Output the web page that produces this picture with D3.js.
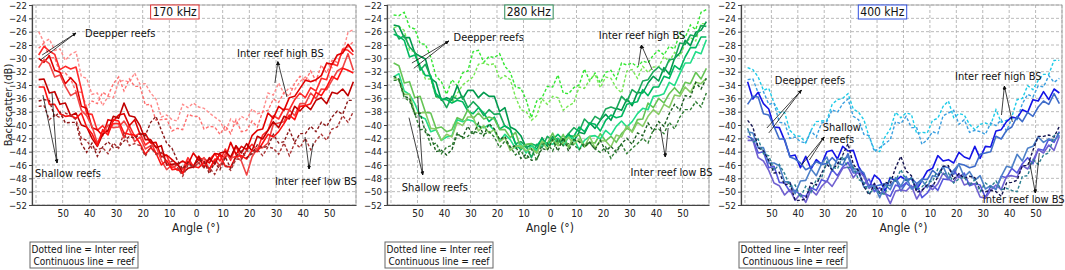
<!DOCTYPE html>
<html>
<head>
<meta charset="utf-8">
<script src="https://cdn.jsdelivr.net/npm/d3@7"></script>
<style>
  body { margin: 0; background: #fff; }
  text { font-family: "DejaVu Sans Condensed", "DejaVu Sans", sans-serif; font-stretch: condensed; }
</style>
</head>
<body>
<script>
// Chart size
const width = 1065;
const height = 270;

// Sampled angles (degrees), shared by all series
const angles = [-59,-57,-55,-53,-51,-49,-47,-45,-43,-41,-39,-37,-35,-33,-31,-29,-27,-25,-23,-21,
  -19,-17,-15,-13,-11,-9,-7,-5,-3,-1,1,3,5,7,9,11,13,15,17,19,
  21,23,25,27,29,31,33,35,37,39,41,43,45,47,49,51,53,55,57,59];

const yTicks = [-22,-24,-26,-28,-30,-32,-34,-36,-38,-40,-42,-44,-46,-48,-50,-52];
const xTicks = [-50,-40,-30,-20,-10,0,10,20,30,40,50];
const xGrid = [-60,-50,-40,-30,-20,-10,0,10,20,30,40,50,60];
const titles = ["170 kHz", "280 kHz", "400 kHz"];

// ---- 170 kHz ----
const reef170 = [
  [-29.5,-28.2,-28.9,-29.4,-31.7,-31.2,-31.6,-31.3,-34.6,-38.3,-38.4,-40.8,-40.1,-41.1,-39.8,-39.8,-41.9,-40.1,-41.7,-41.2,-43,-42.4,-44.3,-44.2,-44.6,-46.4,-46,-46.7,-44.9,-46.2,-44.7,-45.6,-45.2,-44.3,-45.4,-43.6,-45.3,-43.2,-45,-43.8,-42.9,-43.8,-41.5,-40.8,-38.6,-39.1,-37.6,-37.7,-36.2,-35.2,-35.9,-34.4,-34.9,-33,-33.2,-30.8,-31.1,-28.6,-28.8,-29.5],
  [-30,-30.6,-29.6,-31.8,-32.1,-33.8,-32.9,-33.8,-37.2,-37.5,-40.4,-40.7,-41.6,-39.2,-39.4,-38.5,-38.3,-40.1,-39.2,-41.4,-41.3,-42.7,-42.6,-44.8,-44.5,-45.2,-45.9,-45.4,-45.9,-44.2,-45.3,-45,-45.7,-44.3,-44.4,-45,-42.6,-44.4,-43.2,-43.7,-41.6,-40.8,-40.6,-38.2,-39,-37.2,-37.8,-35.9,-35.7,-34.5,-33.3,-33.5,-33.2,-32.6,-30.7,-30.9,-29.5,-29.2,-27.9,-29],
  [-31.4,-30.2,-30.8,-32.8,-32.5,-34.2,-35.6,-35.1,-37.8,-38.6,-40.2,-42.7,-41.3,-40,-40.4,-40.3,-39.4,-40.7,-42.5,-41.8,-43.6,-43.1,-43.2,-45.3,-46.7,-46,-46.8,-46.6,-45.6,-46.4,-45.7,-44.9,-46.8,-45.1,-46.2,-44.3,-45,-44.7,-45.4,-47.5,-44.8,-43.5,-43.4,-42.7,-39.9,-39.7,-39.5,-37.7,-38.6,-36.8,-36.8,-35.2,-36,-34.6,-34.7,-33.3,-31.9,-31.4,-29.3,-31.8],
  [-33.2,-33.1,-35.2,-35,-36.9,-36.7,-38.6,-38.2,-40,-40.3,-42,-43.2,-41.4,-40.8,-38.7,-39,-36.7,-38.6,-38.8,-40.1,-42.2,-42.2,-43.4,-43.1,-46,-45.9,-45.8,-47.2,-46.5,-46.3,-44.7,-46.4,-44.9,-45.9,-44.2,-44,-44.8,-43.1,-44.2,-42.8,-43.9,-41.7,-42.1,-40.8,-39.5,-40.4,-38.7,-39.1,-37.2,-37.9,-37,-37.7,-36.3,-35.9,-36.8,-35.1,-35.3,-34.6,-35.6,-33.5],
  [-34.3,-34.3,-36.9,-36.9,-38.3,-38.7,-38.6,-39,-38.2,-40.3,-41.3,-43.1,-40.7,-41.5,-39.2,-39.4,-41.2,-41.4,-41.5,-42.8,-44.4,-43.4,-44.2,-46,-45.3,-46.7,-46.6,-47.3,-45.4,-46.2,-46.4,-45.6,-46.6,-45.3,-44.5,-46.2,-46.3,-44.7,-44.6,-45.1,-43.8,-44,-42.7,-41.4,-41.8,-41,-39.8,-38.5,-39.2,-37.2,-37.1,-36.8,-35.1,-35.6,-34.3,-32.7,-33.2,-31.5,-31.8,-32.2]
];
const interHigh170 = [
  [-26,-27.6,-27.1,-28.8,-28.6,-30.3,-29.4,-29,-32.7,-33,-35.4,-35.2,-37.1,-35.7,-35.9,-33.5,-33.3,-33.6,-32.2,-33.9,-33.8,-35.2,-36.1,-38.8,-38.5,-39.2,-39.4,-36.9,-37.4,-36.7,-37.3,-37.5,-38.2,-38.8,-39.4,-41,-39.1,-39.9,-38.7,-39.2,-37.6,-38.3,-38.1,-35.2,-35.5,-33.7,-35.3,-34.4,-34.7,-33.5,-32.8,-33.5,-33.2,-32.6,-30.7,-31.4,-29.5,-29.2,-26.1,-25.7],
  [-28.5,-27.7,-29.9,-29.9,-32.2,-32.2,-33.1,-35,-35.1,-37.3,-36.4,-36.8,-35.1,-35.6,-33.8,-32.8,-34.9,-33.1,-34.2,-34.2,-37,-36.9,-39.3,-39.2,-39.1,-40.9,-40.5,-40.7,-38.4,-38.7,-38.7,-40.6,-40.2,-40.3,-41.4,-40.1,-41.3,-39.2,-41,-40.8,-39.4,-40.3,-38,-37.8,-36.1,-36.6,-35.1,-35.7,-33.7,-32.7,-33.4,-31.9,-33.4,-31,-32.2,-30.3,-30.6,-29.1,-28.3,-27.5]
];
const interLow170 = [
  [-36.4,-36.2,-36.3,-38.8,-38,-39.7,-39.6,-39.6,-42.8,-44.1,-42.7,-44.7,-43.3,-42.5,-43.4,-43.3,-42.4,-41.7,-42,-41.3,-41.6,-39.6,-38.7,-40.8,-42.7,-43.5,-45.3,-46.6,-45.6,-46.4,-45.2,-45.4,-47.3,-45.6,-46.7,-44.8,-46.5,-44.7,-43.9,-44.9,-44.3,-43,-43.4,-43.2,-41.4,-42.7,-42.5,-40.7,-42.6,-41.3,-41.3,-40.2,-41,-39.6,-40.2,-38.8,-37.9,-38.4,-36.3,-36.3],
  [-37.2,-37.1,-39.2,-38.5,-38.9,-38.2,-38.6,-39.2,-42,-42.3,-43.5,-43.7,-43.4,-44.3,-42.7,-43.5,-41.2,-43.1,-42.8,-43.1,-44.7,-43.2,-44.4,-44.1,-46,-45.4,-46.3,-47.7,-46,-46.3,-45.7,-46.4,-46.4,-47.4,-45.7,-46,-46.8,-45.1,-45.2,-43.8,-44.4,-43.7,-44.6,-43.3,-43.5,-44.4,-42.7,-44.6,-42.7,-43.4,-42,-43.7,-42.3,-41.4,-42.3,-40.6,-40.3,-38.6,-39.6,-38]
];

// ---- 280 kHz ----
const reef280 = [
  [-25,-25.2,-26.9,-26.9,-29.2,-29.7,-30.1,-33,-33.6,-36.3,-35.9,-36.3,-34.1,-36.1,-34.8,-34.8,-35.9,-35.1,-35.7,-35.7,-38,-37.4,-40.3,-40.7,-41.6,-43.4,-43,-43.7,-41.9,-43.2,-41.7,-42.6,-42.2,-41.3,-42.4,-41.1,-41.3,-39.7,-40.5,-39.3,-38.4,-39.3,-37.5,-37.8,-36.1,-37.1,-35.1,-35.2,-33.7,-32.7,-33.4,-31.4,-32.4,-30,-29.2,-27.3,-28.1,-26.1,-25.8,-24.5],
  [-25.5,-27.1,-26.6,-28.3,-29.1,-31.8,-30.9,-32.8,-35.7,-36,-37.4,-35.7,-36.1,-35.7,-37.4,-36.5,-37.3,-38.6,-37.7,-38.4,-38.3,-40.2,-40.6,-42.8,-42.5,-43.2,-44.9,-42.9,-43.4,-41.7,-42.3,-42,-42.7,-41.3,-40.4,-41,-39.1,-39.9,-38.7,-39.2,-37.6,-37.3,-37.6,-35.7,-36.5,-34.7,-35.3,-33.4,-33.2,-32,-31.3,-32,-30.2,-30.1,-27.7,-27.9,-26.5,-26.7,-25.1,-25.2],
  [-26.4,-26.7,-27.3,-29.8,-29.5,-31.2,-32.6,-32.6,-35.3,-36.1,-36.2,-36.7,-36.3,-36.5,-37.9,-38.3,-37.4,-38.2,-39.5,-38.8,-40.6,-40.1,-40.7,-42.8,-43.7,-43,-42.8,-43.1,-42.1,-42.9,-42.2,-41.4,-42.3,-41.6,-41.7,-40.3,-41,-39.7,-39.9,-40.9,-39.3,-38.5,-38.9,-38.7,-36.9,-36.7,-36.5,-34.7,-35.6,-34.3,-34.3,-32.7,-33,-31.1,-31.7,-29.8,-28.4,-28.4,-26.8,-26.8],
  [-30.7,-31.1,-33.7,-33.5,-35.9,-35.7,-38.1,-38.2,-40.5,-40.3,-41,-40.7,-38.9,-39.3,-37.7,-39,-38.2,-39.1,-38.8,-39.1,-40.7,-40.7,-41.9,-41.1,-43.5,-42.9,-42.8,-44.2,-42.5,-42.8,-41.2,-42.9,-41.4,-43.4,-41.7,-41.5,-43.3,-42.6,-42.7,-41.3,-42.4,-41.7,-42.6,-41.3,-40.5,-40.9,-39.2,-39.1,-36.7,-37.4,-36,-36.7,-35.3,-34.4,-35.3,-33.6,-33.8,-32.1,-33.1,-31.5],
  [-32.8,-32.3,-34.9,-35.4,-36.8,-38.7,-39.1,-41,-40.7,-42.3,-41.8,-41.6,-39.2,-39.5,-39.2,-39.4,-40.2,-40.4,-40,-40.8,-42.4,-41.4,-42.2,-43.5,-42.8,-44.2,-43.1,-43.8,-42.9,-42.7,-42.9,-42.1,-43.1,-41.8,-42,-43.7,-42.3,-41.7,-41.6,-42.1,-40.8,-41.5,-40.2,-39.4,-40.3,-39.5,-38.3,-37.5,-37.7,-35.7,-35.6,-35.3,-33.6,-34.1,-32.3,-30.7,-30.7,-29,-29.3,-27.2],
  [-33,-33.2,-35.4,-35.4,-38.2,-38.2,-38.1,-40.5,-40.6,-42.3,-41.4,-41.8,-39.6,-40.1,-38.8,-38.8,-40.9,-40.1,-41.2,-40.7,-42.5,-41.9,-43.8,-43.2,-43.1,-43.9,-43.5,-44.2,-42.4,-43.7,-42.2,-43.1,-42.7,-41.8,-42.9,-42.1,-43.3,-41.7,-43.5,-42.3,-42.4,-43.3,-41.5,-41.8,-40.1,-41.1,-39.6,-40.2,-38.7,-37.7,-38.4,-36.9,-37.4,-35.5,-35.7,-34.3,-35.1,-33.6,-33.8,-33]
];
const interHigh280 = [
  [-23.5,-23.6,-23.1,-25.3,-25.6,-27.8,-27.9,-29.8,-32.7,-33.5,-35.4,-33.2,-34.1,-32.2,-31.9,-29,-28.8,-30.6,-29.7,-29.9,-29.3,-31.2,-32.1,-34.3,-34.5,-36.2,-38.9,-36.4,-35.9,-34.2,-34.3,-32.5,-35.2,-35.3,-34.4,-34,-31.6,-33.4,-32.2,-33.7,-32.1,-31.8,-33.1,-30.7,-31,-30.7,-31.3,-30.4,-30.7,-29.5,-28.8,-29.5,-28.2,-28.6,-26.2,-26.9,-25,-25.7,-23.1,-22.7],
  [-25.4,-25.2,-25.8,-28.8,-29,-31.2,-33.1,-33.1,-35.8,-36.1,-36.2,-36.7,-35.3,-34,-33.4,-32.8,-30.9,-30.7,-31,-30.8,-33.1,-32.6,-33.2,-35.8,-37.7,-38,-39.3,-38.6,-36.1,-36.9,-35.7,-35.9,-37.8,-37.1,-36.7,-34.3,-34.5,-33.2,-32.4,-34.4,-32.8,-33,-34.4,-35.2,-31.9,-31.7,-33,-31.2,-32.1,-31.3,-31.3,-29.7,-30.5,-29.1,-29.7,-27.8,-26.9,-27.4,-24.8,-24.8]
];
const interLow280 = [
  [-32.7,-33.1,-35.7,-36,-38.4,-38.2,-41.1,-41.7,-44,-43.8,-44.5,-43.7,-41.4,-41.8,-40.2,-41.5,-39.7,-41.6,-39.8,-40.6,-42.2,-41.7,-43.4,-43.1,-45,-44.4,-45.3,-45.2,-43.5,-43.8,-42.2,-43.9,-41.9,-43.9,-42.2,-42.5,-43.3,-42.6,-43.7,-42.3,-43.9,-43.2,-44.1,-42.8,-42,-42.9,-41.2,-41.6,-39.7,-40.9,-39.5,-40.2,-38.3,-36.9,-37.8,-35.6,-35.8,-33.6,-34.6,-33],
  [-33.3,-33.3,-35.9,-36.4,-38.3,-40.7,-40.6,-43,-42.7,-44.3,-43.3,-43.1,-41.2,-42,-41.7,-40.9,-41.2,-41.4,-41,-41.8,-43.4,-42.4,-43.2,-44.5,-43.8,-45.2,-43.6,-45.3,-42.9,-42.7,-43.9,-42.1,-43.1,-42.8,-43,-43.7,-42.8,-42.7,-43.6,-44.1,-43.3,-45,-43.7,-42.9,-44.3,-43.5,-42.8,-42,-42.7,-40.7,-40.6,-41.3,-39.6,-40.6,-38.8,-37.7,-37.7,-36.5,-37.3,-35.2]
];

// ---- 400 kHz ----
const reef400 = [
  [-33.5,-36.1,-35.1,-36.8,-37.6,-40.3,-40.4,-42.3,-44.7,-44.5,-46.4,-44.7,-46.6,-45.2,-45.9,-44,-43.8,-45.1,-43.2,-43.9,-43.8,-46.2,-47.6,-49.3,-47.5,-48.2,-49.9,-47.9,-48.4,-47.7,-48.3,-48,-49.7,-48.3,-46.9,-46.5,-44.6,-45.4,-45.2,-45.7,-44.1,-44.8,-45.1,-43.2,-45,-43.2,-43.3,-40.9,-40.7,-39.5,-38.8,-39,-37.7,-38.1,-36.2,-36.4,-35,-36.2,-34.6,-35.2],
  [-36.9,-35.7,-35.8,-38.3,-38.5,-40.2,-42.1,-42.1,-44.8,-45.1,-45.7,-46.7,-46.3,-45.5,-45.9,-45.8,-44.9,-45.7,-46,-44.3,-46.6,-46.6,-47.2,-49.3,-49.2,-49,-48.8,-49.1,-48.1,-49.9,-48.7,-47.9,-48.8,-48.1,-48.2,-46.8,-47.5,-46.2,-46.4,-47.4,-45.8,-46,-46.4,-46.2,-44.4,-44.2,-44,-41.7,-42.1,-40.8,-40.3,-38.7,-39.5,-38.1,-38.7,-37.3,-36.4,-36.9,-35.3,-36.8],
  [-41.7,-42.1,-44.2,-44,-46.4,-46.2,-48.6,-48.7,-50,-49.8,-50.5,-50.7,-49.4,-49.8,-48.2,-48.5,-46.7,-47.6,-46.3,-45.6,-47.2,-47.2,-48.9,-48.1,-50,-49.4,-50.3,-50.7,-49,-49.3,-48.7,-49.4,-48.9,-50.9,-50.2,-49,-49.8,-48.1,-48.2,-46.8,-47.9,-47.2,-49.1,-48.8,-49,-50.9,-49.2,-49.6,-47.7,-47.9,-46.5,-47.2,-45.8,-44.9,-45.8,-43.6,-43.8,-42.1,-42.6,-41],
  [-42.3,-42.3,-44.9,-45.4,-46.8,-48.7,-49.1,-50.5,-49.7,-51.3,-50.3,-51.6,-49.7,-50.5,-49.2,-48.4,-49.2,-47.9,-46.5,-46.3,-47.9,-46.9,-47.7,-49.5,-48.8,-50.2,-50.1,-51.8,-49.9,-49.7,-49.9,-49.1,-51.1,-49.8,-49,-49.7,-48.8,-47.2,-48.1,-48.6,-47.3,-49,-48.7,-48.9,-50.8,-51,-49.8,-49,-49.7,-47.7,-47.6,-47.8,-46.1,-46.6,-45.3,-43.7,-44.2,-43,-43.8,-41.7],
  [-41,-41.2,-43.4,-43.4,-45.7,-45.7,-46.1,-48.5,-48.6,-50.3,-48.4,-48.3,-46.6,-47.6,-45.8,-44.8,-46.9,-45.1,-45.2,-44.7,-47,-46.9,-49.3,-49.2,-49.1,-50.9,-49,-49.7,-47.9,-49.2,-47.7,-49.6,-49.2,-48.3,-49.4,-47.6,-47.8,-46.2,-48,-46.8,-45.9,-47.8,-47,-48.3,-47.6,-49.6,-49.1,-49.7,-47.7,-46.2,-46.4,-44.4,-45.4,-43.5,-43.2,-41.8,-42.6,-42.1,-42.3,-41.5]
];
const interHigh400 = [
  [-31.4,-31.7,-32.8,-34.8,-34.5,-36.7,-38.1,-38.1,-40.8,-41.6,-41.7,-42.7,-40.8,-39.5,-39.4,-39.3,-36.9,-36.2,-36,-35.3,-37.6,-38.1,-39.2,-41.8,-43.7,-44,-41.8,-40.6,-38.1,-38.9,-38.2,-38.4,-41.3,-41.1,-41.2,-39.3,-39,-37.2,-36.4,-38.9,-38.3,-38.5,-39.9,-40.7,-39.9,-39.7,-40,-37.7,-39.6,-39.3,-38.8,-36.2,-36,-34.1,-34.7,-33.3,-32.4,-32.4,-30.3,-30.3],
  [-33.2,-33.1,-35.2,-35,-36.9,-36.7,-39.6,-39.7,-42,-41.8,-42.5,-42.7,-40.9,-41.8,-39.7,-39.5,-37.7,-38.1,-36.8,-36.1,-38.7,-39.2,-41.4,-41.6,-44,-43.4,-42.8,-42.2,-39.5,-39.8,-38.7,-40.4,-40.4,-42.9,-42.2,-41,-41.3,-38.6,-38.2,-37.8,-39.9,-39.2,-41.1,-40.8,-41,-41.4,-39.7,-40.1,-39.2,-40.9,-39,-39.2,-36.8,-35.4,-35.8,-34.1,-34.3,-32.6,-33.6,-33]
];
const interLow400 = [
  [-39.3,-40.3,-43.4,-43.9,-45.3,-47.2,-47.1,-49,-48.7,-51.3,-51.3,-51.1,-48.7,-49,-47.2,-45.9,-46.7,-45.9,-44.5,-42.8,-45.9,-46.9,-49.2,-50.5,-48.8,-50.2,-48.6,-48.8,-46.4,-44.7,-46.9,-47.6,-50.1,-49.8,-49,-49.2,-47.8,-46.2,-46.1,-48.1,-47.3,-48,-47.7,-47.9,-49.8,-50,-49.8,-50,-50.7,-48.7,-48.6,-48.3,-46.1,-46.1,-43.8,-41.7,-41.7,-41.5,-41.8,-40.2],
  [-40.5,-42.6,-42.1,-44.3,-44.6,-46.8,-45.9,-47.3,-49.2,-49,-50.9,-49.2,-50.1,-48.2,-47.9,-45.5,-46.3,-46.6,-44.7,-46.4,-46.3,-48.2,-48.6,-50.3,-49.5,-50.2,-50.4,-47.9,-48.4,-46.7,-48.3,-48,-49.7,-49.3,-48.4,-48.5,-46.6,-47.4,-47.2,-48.7,-48.1,-47.8,-49.1,-48.2,-50,-48.7,-49.3,-48.4,-49.7,-49.5,-49.8,-50,-47.7,-47.6,-45.2,-45.9,-44.5,-44.2,-41.6,-41.2]
];

// Panel layout and styles
const panels = [
  { title: titles[0], left: 32, right: 356, frame: "#e03030",
    reef: reef170, high: interHigh170, low: interLow170,
    reefColors: ["#ff2a2a", "#e00000", "#f04545", "#c00000", "#ff1010"],
    highColors: ["#ff8c8c", "#ff6f6f"], lowColors: ["#8b1a1a", "#a83232"],
    notes: [
      { text: "Deepper reefs", at: [-41.6, -26.8], tip: [-45, -26.2], from: [[-58.5, -30.3], [-57.7, -29.5]] },
      { text: "Shallow reefs", at: [-60.4, -47.8], tip: [-52.1, -45.7], from: [[-57.4, -35.5], [-54, -35.2]] },
      { text: "Inter reef high BS", at: [15.4, -29.8], tip: [30.7, -30.5], from: [[29.6, -33.7], [34.1, -35.8]] },
      { text: "Inter reef low BS", at: [29.6, -49], tip: [42.4, -46.6], from: [[40.9, -41.8], [43.9, -42.7]] }
    ] },
  { title: titles[1], left: 387, right: 709, frame: "#2e8b57",
    reef: reef280, high: interHigh280, low: interLow280,
    reefColors: ["#00994d", "#1aa85a", "#00b860", "#66c455", "#22dd88", "#88cc66"],
    highColors: ["#33e633", "#77e855"], lowColors: ["#1b5e20", "#2e7d32"],
    notes: [
      { text: "Deepper reefs", at: [-36.4, -27.4], tip: [-38.2, -27.4], from: [[-52.1, -30.7], [-51.4, -31.5]] },
      { text: "Shallow reefs", at: [-55.9, -49.9], tip: [-48, -47.5], from: [[-53.2, -38.9], [-49.9, -35.8]] },
      { text: "Inter reef high BS", at: [18.4, -27.1], tip: [34.5, -28], from: [[33.4, -31], [38.6, -31.75]] },
      { text: "Inter reef low BS", at: [30.4, -47.6], tip: [43.5, -44.8], from: [[41.6, -40.3], [44.6, -40.45]] }
    ] },
  { title: titles[2], left: 741, right: 1062, frame: "#3050e0",
    reef: reef400, high: interHigh400, low: interLow400,
    reefColors: ["#1414e6", "#3f6cc9", "#5555dd", "#7060d0", "#4d80c8"],
    highColors: ["#1ecbe8", "#3a9fe0"], lowColors: ["#141450", "#2a7f90"],
    notes: [
      { text: "Deepper reefs", at: [-48.7, -33.85], tip: [-38.6, -34.75], from: [[-51.7, -40.45], [-51, -41.2]] },
      { text: "Shallow", at: [-30.6, -40.9], tip: [-30, -41.8], from: [[-38.6, -46], [-35.6, -45.25]] },
      { text: "reefs", at: [-28, -42.7] },
      { text: "Inter reef high BS", at: [19.5, -33.25], tip: [38.2, -34.15], from: [[37.1, -38.5], [41.2, -39.55]] },
      { text: "Inter reef low BS", at: [30, -51.7], tip: [49.9, -50.2], from: [[51.4, -44.2], [47.6, -45.25]] }
    ] }
];

const plotTop = 5, plotBottom = 205;

const svg = d3.select("body").append("svg")
  .attr("width", width)
  .attr("height", height);

// Arrow head marker
svg.append("defs").append("marker")
  .attr("id", "arrow")
  .attr("viewBox", "0 0 10 10")
  .attr("refX", 9).attr("refY", 5)
  .attr("markerWidth", 5).attr("markerHeight", 5)
  .attr("orient", "auto")
  .append("path")
  .attr("d", "M0,1 L10,5 L0,9 Z")
  .attr("fill", "#111");

// Y axis title (only on first panel)
svg.append("text")
  .attr("transform", `translate(8,${(plotTop + plotBottom) / 2}) rotate(-90)`)
  .attr("text-anchor", "middle")
  .attr("dy", "0.35em")
  .style("font-size", "11px")
  .style("fill", "#222")
  .text("Backscatter (dB)");

panels.forEach((p, i) => {
  const x = d3.scaleLinear().domain([-61.5, 60]).range([p.left, p.right]);
  const y = d3.scaleLinear().domain([-52, -22]).range([plotBottom, plotTop]);
  const g = svg.append("g");

  g.append("clipPath").attr("id", "clip" + i)
    .append("rect")
    .attr("x", p.left).attr("y", plotTop)
    .attr("width", p.right - p.left).attr("height", plotBottom - plotTop);

  // Grid
  g.append("g").selectAll("line")
    .data(yTicks)
    .join("line")
    .attr("x1", p.left).attr("x2", p.right)
    .attr("y1", d => y(d)).attr("y2", d => y(d))
    .attr("stroke", "#a8a8a8")
    .attr("stroke-dasharray", "3,2")
    .attr("stroke-width", 0.8);
  g.append("g").selectAll("line")
    .data(xGrid)
    .join("line")
    .attr("x1", d => x(d)).attr("x2", d => x(d))
    .attr("y1", plotTop).attr("y2", plotBottom)
    .attr("stroke", "#a8a8a8")
    .attr("stroke-dasharray", "3,2")
    .attr("stroke-width", 0.8);

  // Frame
  g.append("rect")
    .attr("x", p.left).attr("y", plotTop)
    .attr("width", p.right - p.left).attr("height", plotBottom - plotTop)
    .attr("fill", "none")
    .attr("stroke", "#9a9a9a")
    .attr("stroke-width", 0.8);

  // Axes
  const yAxis = g.append("g")
    .attr("transform", `translate(${p.left},0)`)
    .call(d3.axisLeft(y).tickValues(yTicks).tickSize(3).tickPadding(2));
  yAxis.select(".domain").attr("stroke", "#444").attr("stroke-width", 1.2);
  yAxis.selectAll(".tick line").attr("stroke", "#444");
  yAxis.selectAll("text").style("font-size", "9.5px").style("fill", "#222")
    .style("font-family", "'DejaVu Sans Condensed', 'DejaVu Sans', sans-serif");

  const xAxis = g.append("g")
    .attr("transform", `translate(0,${plotBottom})`)
    .call(d3.axisBottom(x).tickValues(xTicks).tickSize(0).tickPadding(5).tickFormat(d => Math.abs(d)));
  xAxis.select(".domain").attr("stroke", "#444").attr("stroke-width", 1.2);
  xAxis.selectAll("text").style("font-size", "10px").style("fill", "#222")
    .style("font-family", "'DejaVu Sans Condensed', 'DejaVu Sans', sans-serif");

  g.append("text")
    .attr("x", x(0)).attr("y", 232)
    .attr("text-anchor", "middle")
    .style("font-size", "12px")
    .style("fill", "#222")
    .text("Angle (°)");

  // Series
  const line = d3.line()
    .x((d, k) => x(angles[k]))
    .y(d => y(d));
  const plot = g.append("g").attr("clip-path", `url(#clip${i})`);

  plot.append("g").selectAll("path")
    .data(p.high)
    .join("path")
    .attr("d", line)
    .attr("fill", "none")
    .attr("stroke", (d, k) => p.highColors[k])
    .attr("stroke-width", 1.4)
    .attr("stroke-dasharray", "3,2");
  plot.append("g").selectAll("path")
    .data(p.reef)
    .join("path")
    .attr("d", line)
    .attr("fill", "none")
    .attr("stroke", (d, k) => p.reefColors[k])
    .attr("stroke-width", 1.6)
    .attr("stroke-linejoin", "round");
  plot.append("g").selectAll("path")
    .data(p.low)
    .join("path")
    .attr("d", line)
    .attr("fill", "none")
    .attr("stroke", (d, k) => p.lowColors[k])
    .attr("stroke-width", 1.4)
    .attr("stroke-dasharray", "3,2");

  // Panel title box
  const titleBox = g.append("rect");
  const title = g.append("text")
    .attr("x", x(-8)).attr("y", 16)
    .attr("text-anchor", "middle")
    .style("font-size", "12px")
    .style("fill", "#111")
    .text(p.title);
  const bb = title.node().getBBox();
  titleBox
    .attr("x", bb.x - 2).attr("y", bb.y)
    .attr("width", bb.width + 4).attr("height", bb.height)
    .attr("fill", "#fff")
    .attr("stroke", p.frame)
    .attr("stroke-width", 1);

  // Annotations
  p.notes.forEach(n => {
    (n.from || []).forEach(f => {
      g.append("line")
        .attr("x1", x(f[0])).attr("y1", y(f[1]))
        .attr("x2", x(n.tip[0])).attr("y2", y(n.tip[1]))
        .attr("stroke", "#111")
        .attr("stroke-width", 0.8)
        .attr("marker-end", "url(#arrow)");
    });
    g.append("text")
      .attr("x", x(n.at[0])).attr("y", y(n.at[1]))
      .style("font-size", "11px")
      .style("fill", "#111")
      .text(n.text);
  });

  // Legend box
  const lx = p.left - 2, lw = 108;
  g.append("rect")
    .attr("x", lx).attr("y", 242)
    .attr("width", lw).attr("height", 26)
    .attr("fill", "#fff")
    .attr("stroke", "#666")
    .attr("stroke-width", 1);
  g.append("text")
    .attr("x", lx + lw / 2).attr("y", 253)
    .attr("text-anchor", "middle")
    .style("font-size", "10px").style("fill", "#111")
    .text("Dotted line = Inter reef");
  g.append("text")
    .attr("x", lx + lw / 2).attr("y", 265)
    .attr("text-anchor", "middle")
    .style("font-size", "10px").style("fill", "#111")
    .text("Continuous line = reef");
});
</script>
</body>
</html>
